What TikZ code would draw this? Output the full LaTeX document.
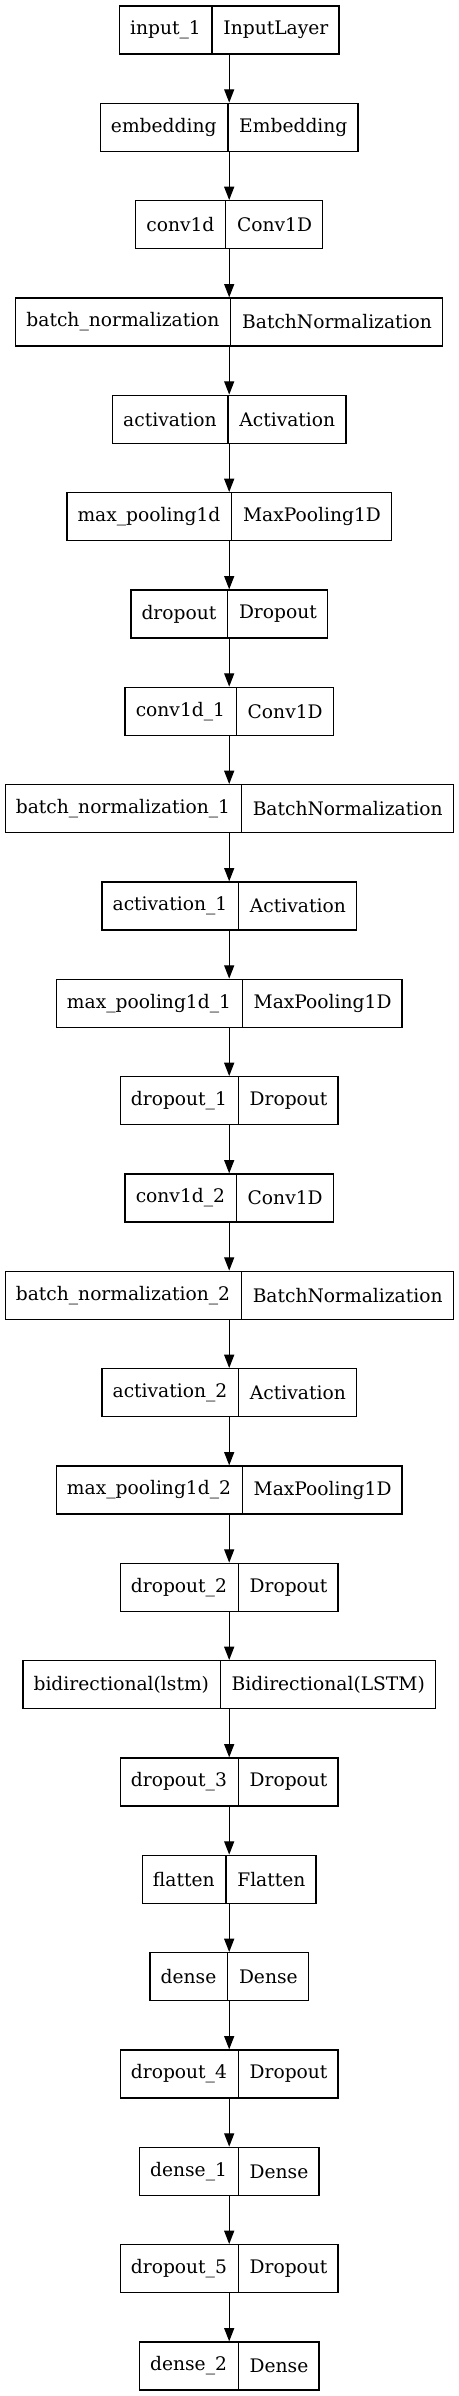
\documentclass[tikz,border=0pt]{standalone}
\usepackage{fontspec}
\setmainfont{DejaVu Serif}
\usetikzlibrary{shapes.multipart,arrows.meta}
\begin{document}
\begin{tikzpicture}[x=0.75pt,y=-0.75pt,
  layer/.style={draw,line width=1pt,rectangle split,rectangle split horizontal,
    rectangle split parts=2,inner xsep=8pt,inner ysep=0pt,minimum height=36pt,
    font=\fontsize{14}{17}\selectfont},
  flow/.style={line width=1pt,-{Triangle[length=10pt,width=7.5pt]}}]
\useasboundingbox (0,0) rectangle (459,2396);
\node[layer] (in) at (229.2,30) {input\_1\nodepart{two}InputLayer};
\node[layer] (emb) at (229.2,127.3) {embedding\nodepart{two}Embedding};
\node[layer] (c0) at (229.2,224.7) {conv1d\nodepart{two}Conv1D};
\node[layer] (bn0) at (229.2,322) {batch\_normalization\nodepart{two}BatchNormalization};
\node[layer] (act0) at (229.2,419.3) {activation\nodepart{two}Activation};
\node[layer] (mp0) at (229.2,516.7) {max\_pooling1d\nodepart{two}MaxPooling1D};
\node[layer] (do0) at (229.2,614) {dropout\nodepart{two}Dropout};
\node[layer] (c1) at (229.2,711.3) {conv1d\_1\nodepart{two}Conv1D};
\node[layer] (bn1) at (229.2,808.7) {batch\_normalization\_1\nodepart{two}BatchNormalization};
\node[layer] (act1) at (229.2,906) {activation\_1\nodepart{two}Activation};
\node[layer] (mp1) at (229.2,1003.3) {max\_pooling1d\_1\nodepart{two}MaxPooling1D};
\node[layer] (do1) at (229.2,1100.7) {dropout\_1\nodepart{two}Dropout};
\node[layer] (c2) at (229.2,1198) {conv1d\_2\nodepart{two}Conv1D};
\node[layer] (bn2) at (229.2,1295.3) {batch\_normalization\_2\nodepart{two}BatchNormalization};
\node[layer] (act2) at (229.2,1392.7) {activation\_2\nodepart{two}Activation};
\node[layer] (mp2) at (229.2,1490) {max\_pooling1d\_2\nodepart{two}MaxPooling1D};
\node[layer] (do2) at (229.2,1587.3) {dropout\_2\nodepart{two}Dropout};
\node[layer] (bi) at (229.2,1684.7) {bidirectional(lstm)\nodepart{two}Bidirectional(LSTM)};
\node[layer] (do3) at (229.2,1782) {dropout\_3\nodepart{two}Dropout};
\node[layer] (fl) at (229.2,1879.3) {flatten\nodepart{two}Flatten};
\node[layer] (d0) at (229.2,1976.7) {dense\nodepart{two}Dense};
\node[layer] (do4) at (229.2,2074) {dropout\_4\nodepart{two}Dropout};
\node[layer] (d1) at (229.2,2171.3) {dense\_1\nodepart{two}Dense};
\node[layer] (do5) at (229.2,2268.7) {dropout\_5\nodepart{two}Dropout};
\node[layer] (d2) at (229.2,2366) {dense\_2\nodepart{two}Dense};
\draw[flow] (in) -- (emb);
\draw[flow] (emb) -- (c0);
\draw[flow] (c0) -- (bn0);
\draw[flow] (bn0) -- (act0);
\draw[flow] (act0) -- (mp0);
\draw[flow] (mp0) -- (do0);
\draw[flow] (do0) -- (c1);
\draw[flow] (c1) -- (bn1);
\draw[flow] (bn1) -- (act1);
\draw[flow] (act1) -- (mp1);
\draw[flow] (mp1) -- (do1);
\draw[flow] (do1) -- (c2);
\draw[flow] (c2) -- (bn2);
\draw[flow] (bn2) -- (act2);
\draw[flow] (act2) -- (mp2);
\draw[flow] (mp2) -- (do2);
\draw[flow] (do2) -- (bi);
\draw[flow] (bi) -- (do3);
\draw[flow] (do3) -- (fl);
\draw[flow] (fl) -- (d0);
\draw[flow] (d0) -- (do4);
\draw[flow] (do4) -- (d1);
\draw[flow] (d1) -- (do5);
\draw[flow] (do5) -- (d2);
\end{tikzpicture}
\end{document}
